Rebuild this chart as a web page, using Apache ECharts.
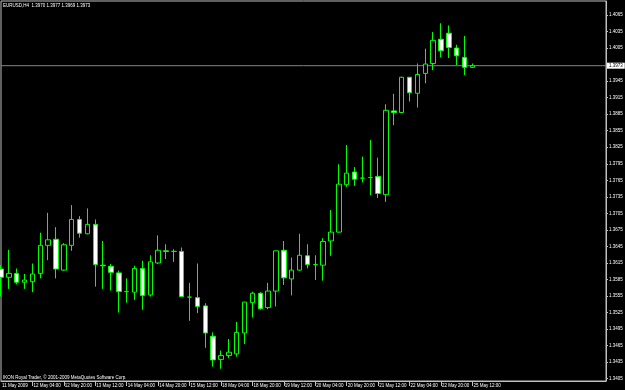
<!DOCTYPE html>
<html><head><meta charset="utf-8">
<script src="https://cdn.jsdelivr.net/npm/echarts@6/dist/echarts.min.js"></script>
<style>html,body{margin:0;padding:0;background:#000}#c{width:625px;height:390px}</style>
</head><body><div id="c"></div>
<script>
const headerText = 'EURUSD,H4  1.3970 1.3977 1.3969 1.3973';
const copyrightText = 'IKON Royal Trader, \u00a9 2001-2009 MetaQuotes Software Corp.';

const barTimes = [
 '11 May 12:00','11 May 16:00','11 May 20:00',
 '12 May 00:00','12 May 04:00','12 May 08:00','12 May 12:00','12 May 16:00','12 May 20:00',
 '13 May 00:00','13 May 04:00','13 May 08:00','13 May 12:00','13 May 16:00','13 May 20:00',
 '14 May 00:00','14 May 04:00','14 May 08:00','14 May 12:00','14 May 16:00','14 May 20:00',
 '15 May 00:00','15 May 04:00','15 May 08:00','15 May 12:00','15 May 16:00','15 May 20:00',
 '18 May 00:00','18 May 04:00','18 May 08:00','18 May 12:00','18 May 16:00','18 May 20:00',
 '19 May 00:00','19 May 04:00','19 May 08:00','19 May 12:00','19 May 16:00','19 May 20:00',
 '20 May 00:00','20 May 04:00','20 May 08:00','20 May 12:00','20 May 16:00','20 May 20:00',
 '21 May 00:00','21 May 04:00','21 May 08:00','21 May 12:00','21 May 16:00','21 May 20:00',
 '22 May 00:00','22 May 04:00','22 May 08:00','22 May 12:00','22 May 16:00','22 May 20:00',
 '25 May 00:00','25 May 04:00','25 May 08:00','25 May 12:00'
];

const opens = [
 1.3604,1.3589,1.3596,1.3580,1.3581,1.3596,1.3647,1.3658,1.3602,1.3647,
 1.3694,1.3668,1.3685,1.3611,1.3609,1.3597,1.3563,1.3562,1.3605,1.3557,
 1.3615,1.3637,1.3636,1.3636,1.3553,1.3552,1.3537,1.3482,1.3440,1.3447,
 1.3450,1.3488,1.3543,1.3560,1.3534,1.3564,1.3638,1.3586,1.3602,1.3628,
 1.3612,1.3611,1.3655,1.3671,1.3757,1.3780,1.3769,1.3770,1.3772,1.3739,
 1.3891,1.3888,1.3952,1.3923,1.3959,1.3977,1.4021,1.4032,1.4005,1.3988,
 1.3970
];
const highs = [
 1.3611,1.3639,1.3605,1.3595,1.3614,1.3670,1.3706,1.3680,1.3651,1.3720,
 1.3700,1.3714,1.3694,1.3655,1.3613,1.3601,1.3587,1.3610,1.3619,1.3629,
 1.3665,1.3649,1.3640,1.3643,1.3579,1.3614,1.3542,1.3489,1.3456,1.3477,
 1.3508,1.3544,1.3563,1.3562,1.3579,1.3637,1.3655,1.3625,1.3668,1.3649,
 1.3629,1.3660,1.3711,1.3794,1.3829,1.3789,1.3808,1.3838,1.3806,1.3903,
 1.3922,1.3953,1.3952,1.3977,1.4004,1.4034,1.4050,1.4046,1.4011,1.4027,
 1.3977
];
const lows = [
 1.3554,1.3568,1.3576,1.3568,1.3562,1.3587,1.3620,1.3587,1.3601,1.3637,
 1.3661,1.3667,1.3572,1.3568,1.3565,1.3525,1.3543,1.3548,1.3530,1.3554,
 1.3613,1.3622,1.3617,1.3553,1.3510,1.3524,1.3461,1.3427,1.3423,1.3442,
 1.3445,1.3468,1.3516,1.3530,1.3531,1.3536,1.3575,1.3556,1.3601,1.3605,
 1.3584,1.3583,1.3628,1.3670,1.3753,1.3755,1.3761,1.3738,1.3733,1.3726,
 1.3865,1.3887,1.3908,1.3897,1.3941,1.3965,1.3988,1.3987,1.3974,1.3956,
 1.3969
];
const closes = [
 1.3589,1.3596,1.3580,1.3584,1.3595,1.3647,1.3657,1.3604,1.3648,1.3694,
 1.3669,1.3685,1.3612,1.3610,1.3598,1.3563,1.3563,1.3605,1.3556,1.3617,
 1.3638,1.3636,1.3636,1.3554,1.3553,1.3536,1.3488,1.3439,1.3447,1.3453,
 1.3489,1.3544,1.3560,1.3532,1.3564,1.3637,1.3588,1.3602,1.3629,1.3612,
 1.3612,1.3654,1.3671,1.3758,1.3778,1.3767,1.3769,1.3770,1.3741,1.3892,
 1.3888,1.3952,1.3924,1.3957,1.3976,1.4019,1.4000,1.4006,1.3991,1.3970,
 1.3973
];

const timeTickLabels = ['11 May 2009','12 May 04:00','12 May 20:00','13 May 12:00','14 May 04:00',
 '14 May 20:00','15 May 12:00','18 May 04:00','18 May 20:00','19 May 12:00','20 May 04:00',
 '20 May 20:00','21 May 12:00','22 May 04:00','22 May 20:00','25 May 12:00'];
const priceTicks = [1.3405,1.3435,1.3465,1.3495,1.3525,1.3555,1.3585,1.3615,1.3645,1.3675,1.3705,
 1.3735,1.3765,1.3795,1.3825,1.3855,1.3885,1.3915,1.3945,1.4005,1.4035,1.4065];
// shown range of the price scale
const priceMin = 1.34008, priceMax = 1.40904;

const TICK_EVERY = 4;
const RIGHT_SHIFT_BARS = 17;
const axisCats = barTimes.concat(new Array(RIGHT_SHIFT_BARS).fill(''));
const candleData = barTimes.map((t, i) => [opens[i], closes[i], lows[i], highs[i]]);
const lastClose = closes[closes.length - 1];
const FONT = 'Liberation Sans';
const FS = 4.5;

const chart = echarts.init(document.getElementById('c'), null, {renderer: 'canvas'});
chart.setOption({
  animation: false,
  backgroundColor: '#000',
  title: [
    {text: headerText, left: 3, top: 3, padding: 0,
     textStyle: {color: '#fff', fontSize: FS, fontWeight: 'normal', fontFamily: FONT}},
    {text: copyrightText, left: 3, top: 375, padding: 0,
     textStyle: {color: '#fff', fontSize: FS, fontWeight: 'normal', fontFamily: FONT}}
  ],
  grid: {left: 1, top: 1, right: 19, bottom: 9, show: true, borderColor: '#c0c0c0', borderWidth: 1,
         containLabel: false, outerBoundsMode: 'none'},
  xAxis: {
    type: 'category', data: axisCats, boundaryGap: false,
    axisLine: {show: true, lineStyle: {color: '#c0c0c0', width: 1}},
    axisTick: {show: true, length: 5, interval: (i) => i % TICK_EVERY === 0 && i < barTimes.length && i > 0,
               lineStyle: {color: '#c0c0c0'}},
    axisLabel: {show: true, interval: (i) => i % TICK_EVERY === 0 && i < barTimes.length,
                formatter: (v, i) => timeTickLabels[i / TICK_EVERY] || '',
                align: 'left', padding: [0, 0, 0, 1], margin: 2,
                color: '#fff', fontSize: FS, fontFamily: FONT},
    splitLine: {show: false}
  },
  yAxis: {
    type: 'value', position: 'right', min: priceMin, max: priceMax, scale: true,
    axisLine: {show: true, lineStyle: {color: '#c0c0c0', width: 1}},
    axisTick: {show: true, length: 2, customValues: priceTicks, lineStyle: {color: '#c0c0c0'}},
    axisLabel: {show: true, customValues: priceTicks, formatter: (v) => v.toFixed(4), margin: 3,
                color: '#fff', fontSize: FS, fontFamily: FONT},
    splitLine: {show: false}
  },
  series: [{
    type: 'candlestick',
    data: candleData,
    barWidth: 5,
    clip: true,
    itemStyle: {color: '#000', color0: '#fff', borderColor: '#00ff00', borderColor0: '#00ff00',
                borderColorDoji: '#00ff00', borderWidth: 1}
  }, {
    type: 'line',
    data: [[0, lastClose], [axisCats.length - 1, lastClose]],
    symbol: 'none', silent: true, z: 1,
    lineStyle: {color: '#778899', width: 1},
    endLabel: {show: true, distance: 1, formatter: () => lastClose.toFixed(4),
               backgroundColor: '#fff', color: '#000', padding: [1, 2, 0, 2],
               fontSize: FS, fontFamily: FONT}
  }]
});
</script></body></html>
